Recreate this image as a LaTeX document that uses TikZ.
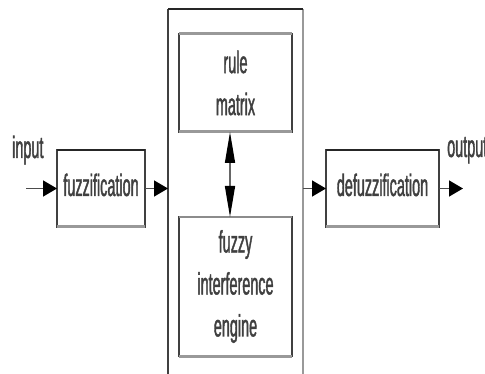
\documentclass[tikz,border=0pt]{standalone}
\usepackage{fontspec}
\newfontfamily\cf[FakeStretch=0.465,FakeBold=1.2]{Liberation Sans}
\usetikzlibrary{arrows.meta}
\begin{document}
\begin{tikzpicture}[x=1pt,y=-1pt,
  lbl/.style={font={\cf\fontsize{31}{42}\selectfont}, text=black!75, inner sep=0pt, align=center},
  blk/.style={draw=black!75, line width=1.2pt, inner sep=0pt, outer sep=0pt, lbl},
  one/.style={text height=23pt, text depth=8pt},
  topdark/.style={draw=black!85, line width=2pt},
  topgray/.style={draw=black!45, line width=2.5pt},
  bargray/.style={draw=black!40, line width=3pt},
  flow/.style={draw=black!70, line width=1.5pt, -{Triangle[length=14pt,width=16pt,black]}},
  dbl/.style={draw=black!60, line width=1.5pt, {Triangle[length=31pt,width=10pt,black]}-{Triangle[length=31pt,width=10pt,black]}}
]
\clip (0,0) rectangle (485,374);
\fill[white] (0,0) rectangle (485,374);

% outer block
\node[draw=none, inner sep=0pt, outer sep=0pt, minimum width=135pt, minimum height=400pt, anchor=north west] (core) at (168,9.5) {};
\draw[draw=black!75, line width=1.2pt] (core.south west) -- (core.north west);
\draw[draw=black!40, line width=1.5pt] (core.north east) -- (core.south east);
\draw[topdark] (core.north west) -- (core.north east);

% blocks
\node[blk, one, minimum width=88pt, minimum height=77pt] (fz) at (101,188.5) {fuzzification};
\node[blk, one, minimum width=113pt, minimum height=77pt] (dfz) at (382.5,188.5) {defuzzification};
\node[blk, minimum width=113pt, minimum height=98pt] (rule) at (235.5,83) {rule\\matrix};
\node[blk, minimum width=113pt, minimum height=139pt] (eng) at (235.5,286.5) {fuzzy\\interference\\engine};

% bars
\draw[topdark] (fz.north west) -- (fz.north east);
\draw[bargray] (fz.south west) -- (fz.south east);
\draw[topdark] (dfz.north west) -- (dfz.north east);
\draw[bargray] (dfz.south west) -- (dfz.south east);
\draw[bargray] (rule.north west) -- (rule.north east);
\draw[bargray] (rule.south west) -- (rule.south east);
\draw[topgray] (eng.north west) -- (eng.north east);
\draw[bargray] (eng.south west) -- (eng.south east);

% labels
\node[lbl, anchor=base west] (inl) at (12,158) {input};
\node[lbl, anchor=base west] (outl) at (447,157) {output};

% connectors
\coordinate (in) at (26,188.5);
\coordinate (out) at (463,188.5);
\draw[flow] (in) -- (fz.west);
\draw[flow] (fz.east) -- (fz.east -| core.west);
\draw[flow] (dfz.west -| core.east) -- (dfz.west);
\draw[flow] (dfz.east) -- (out);
\draw[dbl] ([xshift=-5.5pt]rule.south) -- ([xshift=-5.5pt]eng.north);
\end{tikzpicture}
\end{document}
